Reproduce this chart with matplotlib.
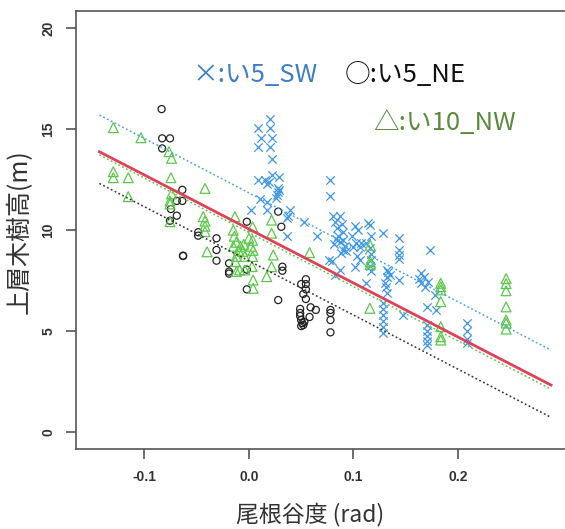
import matplotlib
matplotlib.use("Agg")
import matplotlib.pyplot as plt
import numpy as np

plt.rcParams['font.family'] = ['Noto Sans CJK JP', 'DejaVu Sans']

# い5_SW (blue crosses)
sw_x = [0.020, 0.009, 0.020, 0.012, 0.022, 0.009, 0.020, 0.022,
        0.009, 0.015, 0.022, 0.029, 0.017, 0.019, 0.028, 0.028, 0.027, 0.026, 0.029,
        0.078, 0.078,
        0.0105, 0.017, 0.002, 0.017, 0.039, 0.0375, 0.036, 0.053, 0.036, 0.065,
        0.080, 0.087, 0.082, 0.089, 0.084, 0.090, 0.085, 0.090, 0.087, 0.092, 0.090, 0.093, 0.088, 0.081, 0.083,
        0.101, 0.104, 0.099, 0.102, 0.107, 0.112, 0.100, 0.106, 0.114, 0.116,
        0.117, 0.116, 0.117, 0.117, 0.116, 0.117,
        0.128, 0.144, 0.144, 0.144, 0.144, 0.173,
        0.103, 0.101, 0.079, 0.087, 0.082, 0.106, 0.077,
        0.133, 0.135, 0.130, 0.112, 0.144,
        0.165, 0.167, 0.171, 0.165, 0.168, 0.163,
        0.132, 0.132, 0.131, 0.132,
        0.178, 0.170, 0.179, 0.1475,
        0.128, 0.128, 0.128, 0.128, 0.128, 0.128,
        0.170, 0.170, 0.170, 0.170, 0.170,
        0.209, 0.209, 0.209, 0.209]
sw_y = [15.5, 15.05, 15.05, 14.55, 14.55, 14.1, 14.1, 13.55,
        12.5, 12.5, 12.75, 12.65, 12.3, 12.4, 12.1, 11.9, 11.75, 11.6, 12.0,
        12.5, 11.7,
        11.55, 11.4, 11.0, 11.0, 11.0, 10.7, 10.6, 10.4, 9.7, 9.7,
        10.7, 10.7, 10.4, 10.3, 10.1, 9.9, 9.7, 9.5, 9.4, 9.2, 9.0, 8.95, 8.85, 9.3, 9.55,
        10.2, 10.0, 9.7, 9.35, 9.35, 9.35, 9.15, 9.15, 10.35, 10.25,
        9.7, 9.1, 8.8, 8.5, 8.25, 8.0,
        9.85, 9.6, 9.0, 8.75, 8.55, 9.0,
        8.7, 8.2, 8.45, 8.05, 7.8, 8.5, 8.5,
        7.95, 7.8, 7.4, 7.4, 7.55,
        7.9, 7.7, 7.45, 7.4, 7.2, 7.6,
        8.05, 7.7, 7.2, 6.9,
        6.8, 6.2, 6.05, 5.8,
        6.4, 6.1, 5.8, 5.5, 5.2, 4.9,
        5.3, 5.0, 4.75, 4.5, 4.3,
        5.4, 5.0, 4.6, 4.4]

# い5_NE (black circles)
ne_x = [-0.0835, -0.083, -0.0755, -0.083,
        -0.0637, -0.069, -0.0637, -0.0746, -0.069, -0.0755,
        -0.0485, -0.0485, -0.031, -0.031, -0.031, -0.063, -0.063,
        -0.002, -0.019, -0.019, -0.019, -0.002, -0.002,
        0.032, 0.032, 0.028, 0.031, 0.028,
        0.0545, 0.050, 0.0545, 0.0545, 0.052, 0.0545,
        0.059, 0.064, 0.049, 0.049, 0.049, 0.050, 0.051, 0.052, 0.050, 0.058, 0.053,
        0.078, 0.078, 0.078, 0.078]
ne_y = [16.0, 14.55, 14.55, 14.05,
        12.0, 11.45, 11.45, 11.05, 10.72, 10.47,
        9.9, 9.73, 9.6, 9.02, 8.49, 8.72, 8.74,
        10.42, 8.36, 7.95, 7.85, 8.05, 7.07,
        8.19, 7.99, 10.92, 10.17, 6.54,
        7.57, 7.33, 7.33, 7.07, 6.84, 6.59,
        6.18, 6.05, 6.1, 5.9, 5.75, 5.55, 5.4, 5.3, 5.25, 5.7, 5.45,
        6.05, 5.9, 5.55, 4.94]

# い10_NW (green triangles)
nw_x = [-0.1297, -0.1033, -0.0765, -0.074,
        -0.1297, -0.1297, -0.1154, -0.1154,
        -0.0746, -0.074, -0.0755, -0.0755, -0.0755,
        -0.042, -0.0437, -0.042, -0.042, -0.042, -0.040,
        -0.0134,
        -0.015, -0.014, -0.012, -0.015, -0.008, -0.005, -0.010, -0.006, -0.012, -0.004,
        -0.013, -0.009, -0.004, -0.012,
        0.0035, 0.0035, 0.004, 0.0035, 0.003, 0.004, 0.004, 0.000, 0.002,
        0.0217, 0.0217, 0.0233, 0.0217, 0.017,
        0.058,
        0.116, 0.116, 0.116, 0.1157,
        0.1835, 0.1835, 0.1835, 0.1835, 0.1835, 0.1835, 0.1835,
        0.246, 0.246, 0.246, 0.246, 0.246, 0.246, 0.246]
nw_y = [15.08, 14.58, 13.89, 13.56,
        12.9, 12.6, 12.6, 11.66,
        12.6, 11.8, 11.45, 11.3, 10.42,
        12.07, 10.67, 10.45, 10.2, 9.93, 8.93,
        10.67,
        10.0, 9.7, 9.4, 9.2, 9.2, 9.3, 9.0, 8.95, 8.7, 8.7,
        8.45, 8.03, 8.03, 7.95,
        10.17, 9.5, 9.0, 8.7, 8.2, 7.53, 7.12, 9.6, 9.2,
        10.5, 9.85, 8.77, 8.19, 7.7,
        8.89,
        9.25, 8.45, 8.3, 6.13,
        7.37, 7.2, 7.04, 6.46, 5.22, 4.72, 4.56,
        7.6, 7.35, 7.0, 6.2, 5.55, 5.4, 5.1]

# regression lines: (intercept, slope)
fit_all = (10.06, -26.76)
fit_sw = (11.85, -26.97)
fit_ne = (8.48, -26.83)
fit_nw = (9.89, -26.88)
fit_range = [-0.143, 0.289]

blue = '#3f97e3'
green = '#5cc84a'
red = '#e0405a'

fig = plt.figure(figsize=(5.65, 5.29), dpi=100)
ax = fig.add_axes([76 / 565, 80 / 529, 497 / 565, 438 / 529])

ax.scatter(sw_x, sw_y, marker='x', s=36, color=blue, linewidths=0.9, zorder=2)
ax.scatter(ne_x, ne_y, marker='o', s=26, facecolors='none', edgecolors='#222222', linewidths=0.9, zorder=2)
ax.scatter(nw_x, nw_y, marker='^', s=50, facecolors='none', edgecolors=green, linewidths=0.9, zorder=2)

xs = np.array(fit_range)
dots = (0, (1.2, 1.6))
ax.plot(xs, fit_sw[0] + fit_sw[1] * xs, color='#4aa3ea', lw=1.1, ls=dots, zorder=3)
ax.plot(xs, fit_ne[0] + fit_ne[1] * xs, color='#333333', lw=1.1, ls=dots, zorder=3)
ax.plot(xs, fit_nw[0] + fit_nw[1] * xs, color=green, lw=1.1, ls=dots, zorder=3)
ax.plot(xs, fit_all[0] + fit_all[1] * xs, color=red, lw=2.0, zorder=4)

ax.set_xlim(-0.1654, 0.31)
ax.set_ylim(-0.84, 20.86)
ax.set_xticks([-0.1, 0.0, 0.1, 0.2])
ax.set_xticklabels(['-0.1', '0.0', '0.1', '0.2'])
ax.set_yticks([0, 5, 10, 15, 20])
for s in ax.spines.values():
    s.set_color('#555555')
    s.set_linewidth(1.2)
ax.tick_params(axis='both', length=7, width=1.2, color='#555555', labelsize=10, pad=8)
for lab in ax.get_xticklabels():
    lab.set_fontfamily('Liberation Sans')
    lab.set_fontweight('bold')
    lab.set_color('#333333')
for lab in ax.get_yticklabels():
    lab.set_fontfamily('Liberation Sans')
    lab.set_fontweight('bold')
    lab.set_color('#333333')
    lab.set_rotation(90)
    lab.set_va('center')

fig.text(310 / 565, 1 - 515 / 529, '尾根谷度 (rad)', ha='center', va='center', fontsize=16.5, color='#333333')
fig.text(20 / 565, 1 - 232 / 529, '上層木樹高(m)', ha='center', va='center', rotation=90, fontsize=18, color='#333333')

fig.text(192 / 565, 1 - 75 / 529, '×:い5_SW', ha='left', va='center', fontsize=18.5, color='#3d7fc4')
fig.text(345 / 565, 1 - 75 / 529, '○:い5_NE', ha='left', va='center', fontsize=18.5, color='#111111')
fig.text(373 / 565, 1 - 123 / 529, '△:い10_NW', ha='left', va='center', fontsize=18.5, color='#5b8a3c')

fig.savefig('out.png', dpi=100)
